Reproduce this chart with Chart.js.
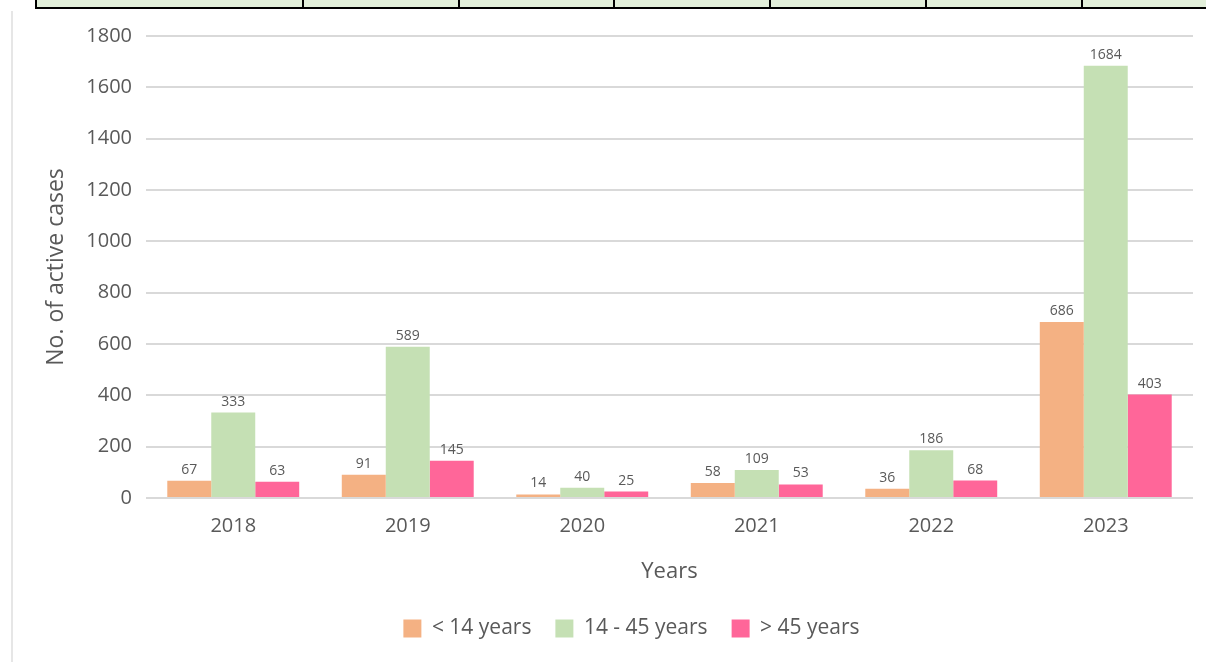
<!DOCTYPE html>
<html>
<head>
<meta charset="utf-8">
<script src="https://cdn.jsdelivr.net/npm/chart.js@4.4.1/dist/chart.umd.min.js"></script>
<style>
    html, body { margin: 0; padding: 0; background: #fff; }
    #wrap { position: relative; width: 1206px; height: 662px; overflow: hidden; }
    /* table row cut off at the top of the screenshot */
    #tableRow { position: absolute; left: 35px; top: -2px; width: 1180px; height: 9px;
        background: #e2efda; border: 2px solid #000; border-top: none; display: flex; }
    #tableRow div { border-right: 2px solid #000; height: 100%; box-sizing: border-box; }
    #frame { position: absolute; left: 11px; top: 11px; width: 2px; height: 660px; background: #e6e6e6; }
    #chartBox { position: absolute; left: 0; top: 0; width: 1206px; height: 662px; }
</style>
</head>
<body>
<div id="wrap">
    <div id="tableRow">
        <div style="width:267px"></div><div style="width:156px"></div><div style="width:155px"></div>
        <div style="width:156px"></div><div style="width:156px"></div><div style="width:156px"></div>
    </div>
    <div id="frame"></div>
    <div id="chartBox"><canvas id="mainChart"></canvas></div>
</div>
<script>
// --- Data ---
const years = ['2018', '2019', '2020', '2021', '2022', '2023'];
const under14 = [67, 91, 14, 58, 36, 686];
const from14to45 = [333, 589, 40, 109, 186, 1684];
const over45 = [63, 145, 25, 53, 68, 403];
const seriesLabels = ['< 14 years', '14 - 45 years', '> 45 years'];

const FONT = '"Open Sans", sans-serif';
const GREY = '#595959';

// value labels above each bar
const barLabels = {
    id: 'barLabels',
    afterDatasetsDraw(chart) {
        const ctx = chart.ctx;
        ctx.save();
        ctx.font = '14px ' + FONT;
        ctx.fillStyle = GREY;
        ctx.textAlign = 'center';
        ctx.textBaseline = 'bottom';
        chart.data.datasets.forEach((ds, i) => {
            chart.getDatasetMeta(i).data.forEach((bar, j) => {
                ctx.fillText(ds.data[j], bar.x, bar.y - 4);
            });
        });
        ctx.restore();
    }
};

// legend sits a bit right of the canvas centre (centred on the plot frame)
const legendShift = {
    id: 'legendShift',
    afterLayout(chart) {
        chart.legend.left += 70;
    }
};

const ctxMain = document.getElementById('mainChart').getContext('2d');
new Chart(ctxMain, {
    type: 'bar',
    data: {
        labels: years,
        datasets: [
            { label: seriesLabels[0], data: under14, backgroundColor: '#f4b183' },
            { label: seriesLabels[1], data: from14to45, backgroundColor: '#c5e0b4' },
            { label: seriesLabels[2], data: over45, backgroundColor: '#ff6699' }
        ]
    },
    options: {
        responsive: true,
        maintainAspectRatio: false,
        animation: false,
        categoryPercentage: 0.756,
        barPercentage: 1,
        layout: { padding: { top: 36, right: 13, bottom: 13, left: 0 } },
        plugins: {
            tooltip: { enabled: false },
            legend: {
                position: 'bottom',
                labels: {
                    boxWidth: 18, boxHeight: 18, padding: 24,
                    color: GREY,
                    font: { family: FONT, size: 21 }
                }
            }
        },
        scales: {
            x: {
                grid: { display: false },
                border: { display: false },
                ticks: { color: GREY, padding: 8, font: { family: FONT, size: 20 } },
                title: { display: true, text: 'Years', color: GREY, padding: { top: 0, bottom: 9 },
                    font: { family: FONT, size: 22 } },
                afterFit(scale) { scale.height = 96; }
            },
            y: {
                min: 0, max: 1800,
                ticks: { stepSize: 200, color: GREY, padding: 14, font: { family: FONT, size: 20 },
                    callback: v => String(v) },
                grid: { color: '#d9d9d9', lineWidth: 2, drawTicks: false },
                border: { display: false },
                title: { display: true, text: 'No. of active cases', color: GREY, padding: { top: 43, bottom: 0 },
                    font: { family: FONT, size: 23 } },
                afterFit(scale) { scale.width = 146; }
            }
        }
    },
    plugins: [barLabels, legendShift]
});
</script>
</body>
</html>
